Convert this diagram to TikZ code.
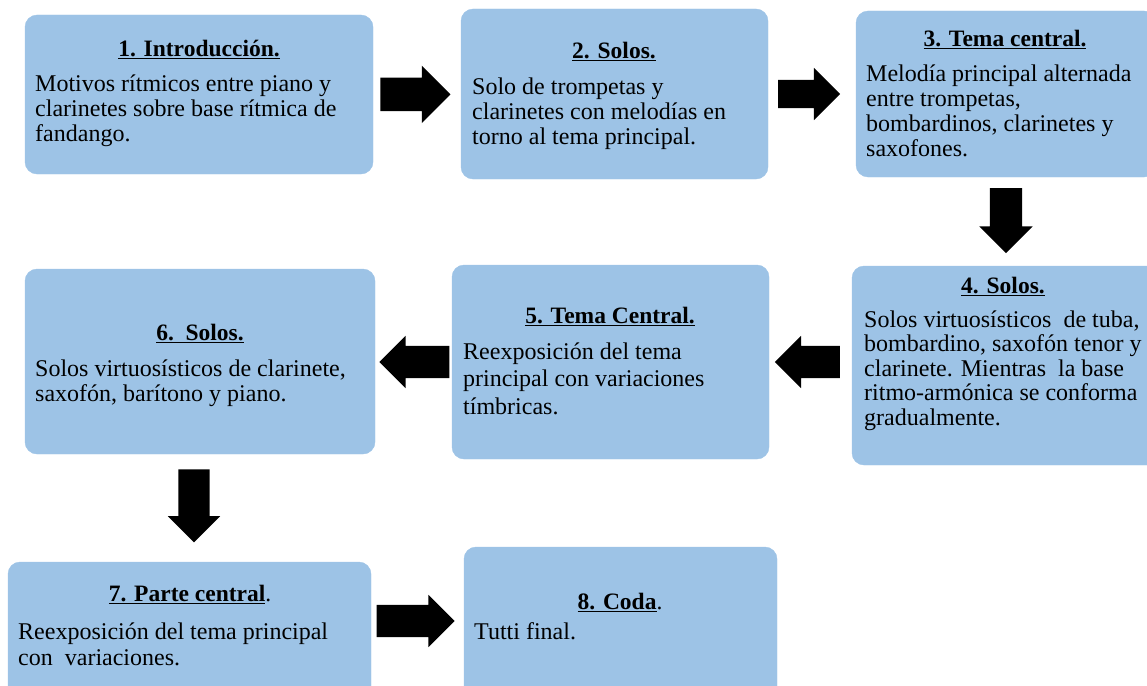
\documentclass[tikz,border=0pt]{standalone}
\usepackage{fontspec}
\setmainfont{Liberation Serif}
\usepackage{xcolor}
\definecolor{boxblue}{HTML}{9DC3E6}
\usepackage{tikz}
\usetikzlibrary{shapes.arrows}
\tikzset{
  stage/.style   ={fill=boxblue,draw=boxblue,rounded corners=12pt,inner sep=0pt},
  stagettl/.style={font=\fontsize{23.5}{25}\selectfont\bfseries,inner sep=0pt,anchor=mid},
  stagetxt/.style={font=\fontsize{24}{25}\selectfont,inner sep=0pt,align=left,anchor=north west},
  fatarrow/.style={single arrow,fill=black,draw=none,inner sep=0pt,
                   single arrow tip angle=90,minimum width=52pt,
                   single arrow head extend=10pt},
}
\newcommand{\ttl}[1]{\underline{#1}}
\begin{document}
\begin{tikzpicture}[x=1pt,y=-1pt]
\useasboundingbox (0,0) rectangle (1147,685);
\clip (0,0) rectangle (1147,685);
\node[stage,minimum width=348pt,minimum height=159pt] (b1) at (199,94.5) {};
\node[stage,minimum width=307pt,minimum height=170pt] (b2) at (614.5,94) {};
\node[stage,minimum width=300pt,minimum height=166pt] (b3) at (1006,94) {};
\node[stage,minimum width=308pt,minimum height=199pt] (b4) at (1006,365.5) {};
\node[stage,minimum width=317pt,minimum height=194pt] (b5) at (610.5,362) {};
\node[stage,minimum width=350pt,minimum height=185pt] (b6) at (200,361.5) {};
\node[stage,minimum width=363pt,minimum height=138pt] (b7) at (189.5,631) {};
\node[stage,minimum width=313pt,minimum height=153pt] (b8) at (620.5,623.5) {};

\node[stagettl] (b1t) at (199,54) {\ttl{1. Introducción.}};
\node[stagetxt] (b1x) at (35,74) {\strut Motivos rítmicos entre piano y\\
  clarinetes sobre base rítmica de\\ fandango.};
\node[stagettl] (b2t) at (614,56) {\ttl{2. Solos.}};
\node[stagetxt] (b2x) at (472,77) {\strut Solo de trompetas y\\
  clarinetes con melodías en\\ torno al tema principal.};
\node[stagettl] (b3t) at (1005,44) {\ttl{3. Tema central.}};
\node[stagetxt] (b3x) at (866,64) {\strut Melodía principal alternada\\
  entre trompetas,\\ bombardinos, clarinetes y\\ saxofones.};
\node[stagettl] (b4t) at (1003,291) {\ttl{4. Solos.}};
\node[stagetxt,font=\fontsize{24}{24.5}\selectfont] (b4x) at (864,310) {\strut Solos virtuosísticos\ \ de tuba,\\
  bombardino, saxofón tenor y\\ clarinete. Mientras\ \ la base\\
  ritmo-armónica se conforma\\ gradualmente.};
\node[stagettl] (b5t) at (610,321) {\ttl{5. Tema Central.}};
\node[stagetxt,font=\fontsize{24}{27.5}\selectfont] (b5x) at (463,340) {\strut Reexposición del tema\\
  principal con variaciones\\ tímbricas.};
\node[stagettl] (b6t) at (200,338) {\ttl{6.\ \ Solos.}};
\node[stagetxt] (b6x) at (35,359) {\strut Solos virtuosísticos de clarinete,\\
  saxofón, barítono y piano.};
\node[stagettl] (b7t) at (190,599) {\ttl{7. Parte central}\mdseries.};
\node[stagetxt,font=\fontsize{24}{26}\selectfont] (b7x) at (18,621) {\strut Reexposición del tema principal\\
  con\ \ variaciones.};
\node[stagettl] (b8t) at (620,607) {\ttl{8. Coda}\mdseries.};
\node[stagetxt] (b8x) at (474,622) {\strut Tutti final.};

\path (b1.east) -- node[pos=.387,fatarrow,minimum height=70pt,minimum width=57pt,
  single arrow head extend=12pt] (a12) {\rule{0pt}{33pt}} (b2.west);
\path (b2.east) -- node[pos=.386,fatarrow,minimum height=62pt,
  single arrow head extend=12pt] (a23) {\rule{0pt}{28pt}} (b3.west);
\path (b3.south) -- node[pos=.399,fatarrow,rotate=-90,minimum height=65pt,
  single arrow head extend=10.5pt] (a34) {\rule{0pt}{32pt}} (b4.north);
\path (b4.west |- b5.east) -- node[pos=.44,fatarrow,rotate=180,minimum height=65pt] (a45)
  {\rule{0pt}{32pt}} (b5.east);
\path (b5.west) -- node[pos=.383,fatarrow,rotate=180,minimum height=70pt] (a56)
  {\rule{0pt}{32pt}} (b6.east |- b5.west);
\path ([xshift=-6pt]b6.south) -- node[pos=.407,fatarrow,rotate=-90,minimum height=73pt,
  single arrow head extend=10.5pt] (a67) {\rule{0pt}{31pt}} ([xshift=-6pt]b6.south |- b7.north);
\path ([yshift=10pt]b7.east) -- node[pos=.392,fatarrow,minimum height=78pt] (a78)
  {\rule{0pt}{32pt}} ([yshift=10pt]b7.east -| b8.west);
\end{tikzpicture}
\end{document}
